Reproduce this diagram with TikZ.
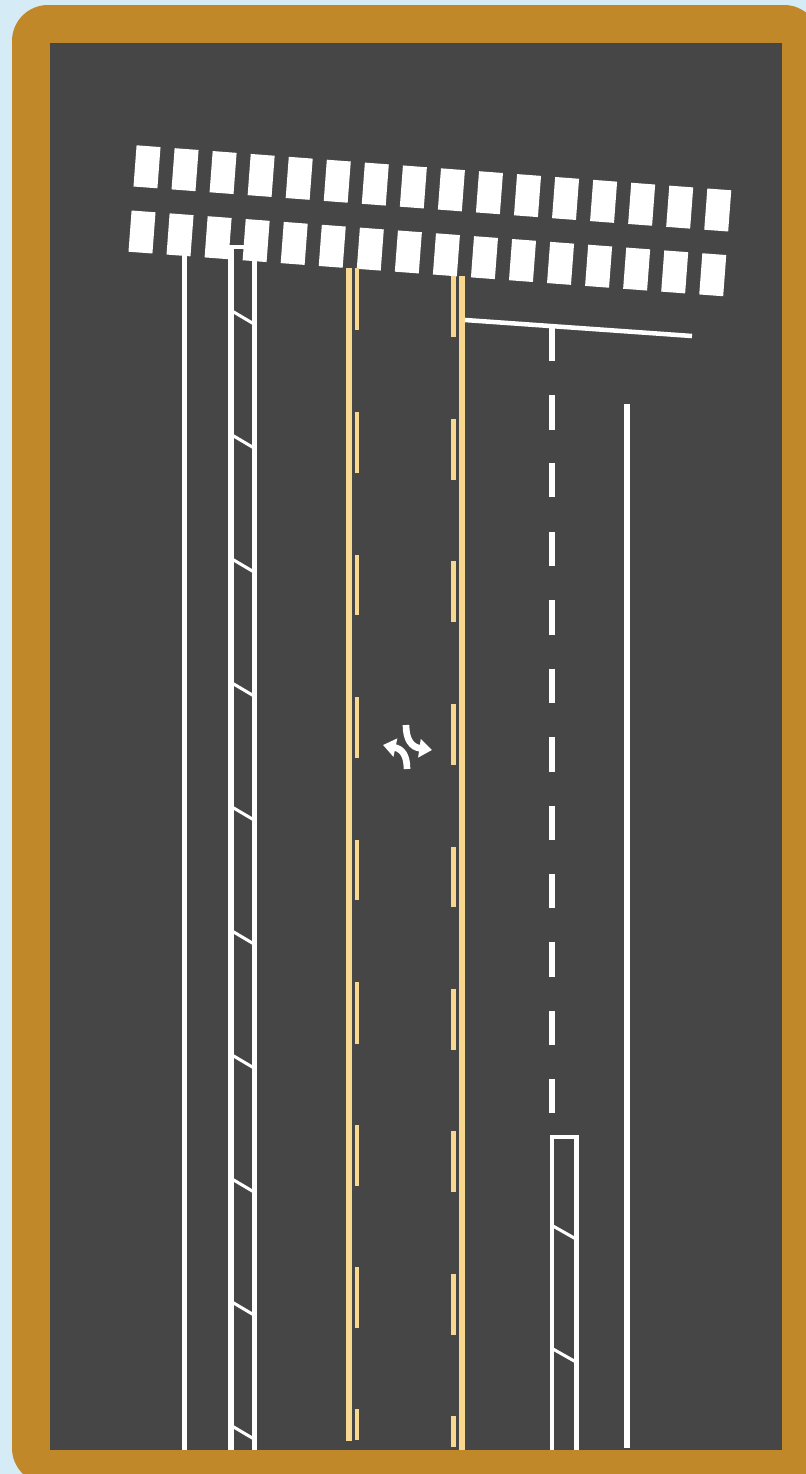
\documentclass[tikz,border=0pt]{standalone}
\usetikzlibrary{arrows.meta}
\definecolor{skyback}{HTML}{D5EBF5}
\definecolor{curbbrown}{HTML}{C08828}
\definecolor{asphalt}{HTML}{464646}
\definecolor{paintyellow}{HTML}{F8D88F}
\tikzset{
  stripe/.style={fill=white, inner sep=0pt, minimum width=18pt, minimum height=31pt, rotate=-4.3},
  whiteline/.style={draw=white, line width=4.1pt},
  thinline/.style={draw=white, line width=3.4pt},
  hatchline/.style={draw=white, line width=2.3pt},
  yellowline/.style={draw=paintyellow, line width=4.1pt},
  yellowdash/.style={draw=paintyellow, line width=3.4pt},
  turnarrow/.style={draw=white, line width=5pt, -{Triangle[length=9.5pt,width=13.5pt]}}
}
\begin{document}
\begin{tikzpicture}[x=0.75pt,y=-0.75pt]
        \useasboundingbox (0,0) rectangle (806,1474);
        \fill[skyback] (0,0) rectangle (806,1474);
        \fill[curbbrown, rounded corners=27pt] (12,5) rectangle (820,1484);
        \fill[asphalt] (50,43) rectangle (782,1450);
        \foreach \i in {0,...,15} {
          \node[stripe] (upper\i) at ({147+38.05*\i},{166.8+2.88*\i}) {};
          \node[stripe] (lower\i) at ({142+38.05*\i},{232+2.85*\i}) {};
        }
        \draw[whiteline] (184.5,255) -- (184.5,1450);
        \draw[whiteline] (231,247) -- (231,1450);
        \draw[thinline] (254.5,260) -- (254.5,1450);
        \draw[thinline] (229,247) -- (245,247);
        \foreach \y in {311,435,559,683,807,931,1055,1179,1302,1426} {
          \draw[hatchline] (232,\y) -- (254,\y+13);
        }
        \draw[yellowline] (349,268) -- (349,1441);
        \draw[yellowline] (462,276) -- (462,1450);
        \foreach \a/\b in {268/330,412/473,555/615,697/758,840/900,982/1044,1125/1186,1267/1328,1409/1440} {
          \draw[yellowdash] (357,\a) -- (357,\b);
        }
        \foreach \a/\b in {276/337,419/480,561/622,704/765,847/907,989/1050,1131/1192,1274/1335,1416/1447} {
          \draw[yellowdash] (453.5,\a) -- (453.5,\b);
        }
        \draw[thinline] (465,320) -- (692,336);
        \foreach \a/\b in {327/361,395/430,463/497,532/566,600/635,669/703,737/772,806/840,874/908,942/977,1011/1045,1079/1113} {
          \draw[whiteline] (552,\a) -- (552,\b);
        }
        \draw[whiteline] (627,404) -- (627,1448);
        \draw[thinline] (552,1450) -- (552,1137) -- (576.5,1137) -- (576.5,1450);
        \foreach \y in {1226,1349} {
          \draw[hatchline] (553,\y) -- (576,\y+13);
        }
        \draw[turnarrow] (407,769) .. controls (407,755) and (402,749) .. (383,745);
        \draw[turnarrow] (406,725) .. controls (406,739) and (411,747) .. (432,750);
      \end{tikzpicture}
\end{document}
